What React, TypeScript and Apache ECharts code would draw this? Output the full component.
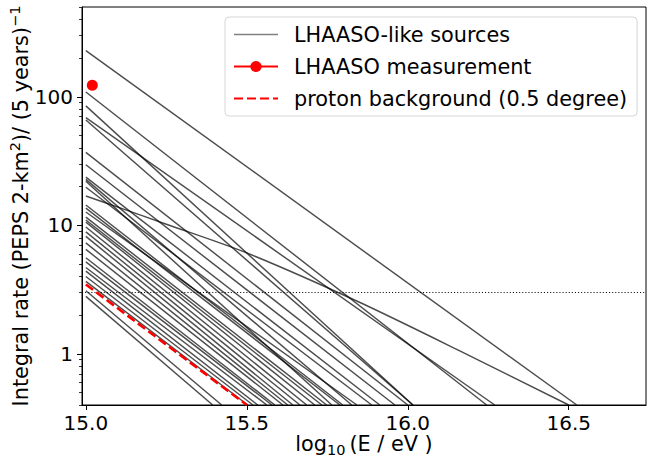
import React, { useEffect, useRef } from "react";
import * as echarts from "echarts";

// ---- axis ranges & ticks ----
const xMin = 14.988;
const xMax = 16.74;
const yMin = 0.4;
const yMax = 500;
const xTickValues = [15.0, 15.5, 16.0, 16.5];
const yMajorTicks = [1, 10, 100];
const yMinorTicks = [
  0.4, 0.5, 0.6, 0.7, 0.8, 0.9,
  2, 3, 4, 5, 6, 7, 8, 9,
  20, 30, 40, 50, 60, 70, 80, 90,
  200, 300, 400, 500,
];

// ---- LHAASO-like sources (straight in log-log): rate at log10E = 15.0, and log10E where rate falls to 0.4 ----
const sourceStartEnergy = 15.0;
const sourceFloorRate = 0.4;
const sourceStartRates = [
  229, 109, 85, 69, 66, 37, 29.6, 23.7, 22.8, 22.0, 19.8, 14.4, 13.6, 12.7, 11.6,
  11.0, 10.6, 9.7, 8.9, 8.2, 7.3, 6.5, 5.6, 5.2, 4.7, 4.4, 4.0, 3.66, 3.1, 2.8,
];
const sourceEndEnergies = [
  16.525, 16.245, 16.016, 16.27, 16.016, 16.0, 15.96, 15.913, 15.826, 15.764,
  15.888, 15.798, 15.789, 15.842, 15.748, 15.733, 15.711, 15.686, 15.665, 15.643,
  15.627, 15.612, 15.587, 15.578, 15.562, 15.534, 15.519, 15.503, 15.422, 15.394,
];

// ---- one curved source ----
const curvedEnergies = [15.0, 15.095, 15.25, 15.5, 15.85, 16.16, 16.5];
const curvedRates = [16.9, 14.0, 10.2, 6.1, 2.52, 1.06, 0.4];

// ---- proton background ----
const protonEnergies = [15.0, 15.5];
const protonRates = [3.47, 0.4];

// ---- LHAASO measurement ----
const measurementEnergy = 15.02;
const measurementRate = 123;

// ---- threshold (dotted) ----
const thresholdRate = 3;

const SOURCES = "LHAASO-like sources";
const MEAS = "LHAASO measurement";
const PROTON = "proton background (0.5 degree)";
const FONT = "DejaVu Sans";
const HIDDEN_SYMBOL = { color: "rgba(0,0,0,0)", borderColor: "rgba(0,0,0,0)", borderWidth: 0 };

export default function App() {
  const ref = useRef<HTMLDivElement>(null);

  useEffect(() => {
    if (!ref.current) return;
    const chart = echarts.init(ref.current, undefined, { renderer: "svg" });

    const grayLine = { color: "rgba(0,0,0,0.7)", width: 1.45 };

    const series: any[] = [];
    sourceStartRates.forEach((r, i) => {
      series.push({
        type: "line",
        name: SOURCES,
        data: [
          [sourceStartEnergy, r],
          [sourceEndEnergies[i], sourceFloorRate],
        ],
        symbol: "none",
        showSymbol: false,
        lineStyle: grayLine,
        silent: true,
        clip: true,
        z: 2,
      });
    });
    series.push({
      type: "line",
      name: SOURCES,
      data: curvedEnergies.map((e, i) => [e, curvedRates[i]]),
      symbol: "none",
      showSymbol: false,
      smooth: 0.25,
      lineStyle: grayLine,
      silent: true,
      clip: true,
      z: 2,
    });
    series.push({
      type: "line",
      name: "threshold",
      data: [
        [xMin, thresholdRate],
        [xMax, thresholdRate],
      ],
      symbol: "none",
      showSymbol: false,
      lineStyle: { color: "#111", width: 1.1, type: [1.1, 2] },
      silent: true,
      z: 1,
    });
    series.push({
      type: "line",
      name: PROTON,
      data: protonEnergies.map((e, i) => [e, protonRates[i]]),
      symbol: "none",
      showSymbol: false,
      lineStyle: { color: "#ff0000", width: 2.6, type: [9, 4] },
      itemStyle: { color: "#ff0000" },
      silent: true,
      clip: true,
      z: 3,
    });
    series.push({
      type: "line",
      name: MEAS,
      data: [[measurementEnergy, measurementRate]],
      symbol: "circle",
      symbolSize: 11,
      showSymbol: true,
      itemStyle: { color: "#ff0000" },
      lineStyle: { color: "#ff0000", width: 1.3 },
      silent: true,
      z: 4,
    });

    chart.setOption({
      animation: false,
      backgroundColor: "#ffffff",
      grid: {
        left: 82,
        right: 1,
        top: 7,
        bottom: 52,
        containLabel: false,
        outerBoundsMode: "none",
        show: true,
        borderColor: "#000",
        borderWidth: 1,
        backgroundColor: "transparent",
      },
      legend: {
        orient: "vertical",
        left: 225,
        top: 17,
        data: [
          { name: SOURCES, itemStyle: HIDDEN_SYMBOL, lineStyle: { color: "#808080", width: 1.6 } },
          { name: MEAS },
          { name: PROTON, itemStyle: HIDDEN_SYMBOL },
        ],
        itemWidth: 44,
        itemHeight: 14,
        itemGap: 11,
        padding: [7, 10, 7, 8],
        selectedMode: false,
        backgroundColor: "rgba(255,255,255,0.85)",
        borderColor: "#d6d6d6",
        borderWidth: 1,
        borderRadius: 4,
        textStyle: {
          fontFamily: FONT,
          fontSize: 20.8,
          color: "#000",
          padding: [0, 0, 0, 11],
        },
      },
      xAxis: {
        type: "value",
        min: xMin,
        max: xMax,
        axisLine: { show: true, onZero: false, lineStyle: { color: "#000", width: 1 } },
        axisTick: {
          show: true,
          customValues: xTickValues,
          length: 5,
          lineStyle: { color: "#000", width: 1 },
        },
        axisLabel: {
          customValues: xTickValues,
          formatter: (v: number) => v.toFixed(1),
          fontFamily: FONT,
          fontSize: 20,
          color: "#000",
          margin: 8,
        },
        splitLine: { show: false },
        name: "log{sub|10}(E / eV )",
        nameLocation: "middle",
        nameGap: 25,
        nameMoveOverlap: false,
        nameTextStyle: {
          fontFamily: FONT,
          fontSize: 20.8,
          color: "#000",
          lineHeight: 27,
          rich: {
            sub: {
              fontFamily: FONT,
              fontSize: 14.5,
              color: "#000",
              lineHeight: 15,
              verticalAlign: "bottom",
              padding: [0, 4, 0, 0],
            },
          },
        },
      },
      yAxis: [
        {
          type: "log",
          logBase: 10,
          min: yMin,
          max: yMax,
          position: "left",
          axisLine: { show: true, onZero: false, lineStyle: { color: "#000", width: 1 } },
          axisTick: {
            show: true,
            customValues: yMajorTicks,
            length: 5,
            lineStyle: { color: "#000", width: 1 },
          },
          axisLabel: {
            customValues: yMajorTicks,
            formatter: (v: number) => String(Math.round(v)),
            fontFamily: FONT,
            fontSize: 20,
            color: "#000",
            margin: 9,
          },
          splitLine: { show: false },
          minorTick: { show: false },
          name: "Integral rate (PEPS 2-km{sup|2})/ (5 years){sup|−1}",
          nameLocation: "middle",
          nameGap: 48,
          nameRotate: 90,
          nameMoveOverlap: false,
          nameTextStyle: {
            fontFamily: FONT,
            fontSize: 20.8,
            color: "#000",
            lineHeight: 27,
            rich: {
              sup: {
                fontFamily: FONT,
                fontSize: 14.5,
                color: "#000",
                lineHeight: 15,
                verticalAlign: "top",
              },
            },
          },
        },
        {
          type: "log",
          logBase: 10,
          min: yMin,
          max: yMax,
          position: "left",
          offset: 0,
          axisLine: { show: false },
          axisTick: {
            show: true,
            customValues: yMinorTicks,
            length: 3,
            lineStyle: { color: "#000", width: 0.8 },
          },
          axisLabel: { show: false },
          splitLine: { show: false },
          minorTick: { show: false },
        },
      ],
      series,
    });

    return () => chart.dispose();
  }, []);

  return (
    <div
      ref={ref}
      style={{ position: "fixed", left: 0, top: 0, width: 647, height: 457, background: "#fff" }}
    />
  );
}
